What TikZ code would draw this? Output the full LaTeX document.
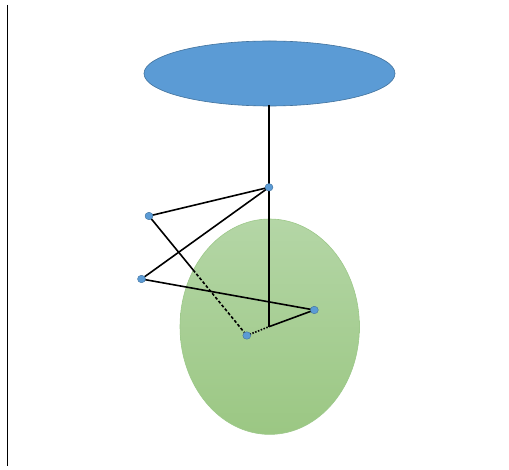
\documentclass[tikz,border=0pt]{standalone}
\usetikzlibrary{backgrounds,calc}
\definecolor{dotblue}{HTML}{5B9BD5}
\definecolor{dotedge}{HTML}{41719C}
\definecolor{greentop}{HTML}{B4D6A6}
\definecolor{greenbot}{HTML}{9BC783}
\definecolor{greenedge}{HTML}{9CC889}
\tikzset{
  pt/.style={ellipse,fill=dotblue,draw=dotedge,line width=0.4pt,inner sep=0pt,minimum width=8pt,minimum height=7.5pt},
  link/.style={draw=black,line width=1.6pt},
  dashlink/.style={draw=black,line width=1.6pt,dash pattern=on 3pt off 2pt},
  dotlink/.style={draw=black,line width=1.6pt,dash pattern=on 1.5pt off 1.5pt},
}
\usetikzlibrary{shapes.geometric}
\begin{document}
\begin{tikzpicture}[x=1pt,y=-1pt]
\useasboundingbox (0,0) rectangle (509,470);
% points
\node[pt] (A) at (269,187.3) {};
\node[pt] (B) at (149,216) {};
\node[pt] (C) at (141.5,279) {};
\node[pt] (D) at (314.3,310) {};
\node[pt] (E) at (246.8,335.5) {};
\coordinate (J) at (269,326.7);
\coordinate (T) at (269,105);
\coordinate (L1) at (7.5,5);
\coordinate (L2) at (7.5,466);
\begin{scope}[on background layer]
  \draw[line width=1.5pt] (L1) -- (L2);
  \fill[draw=dotedge,fill=dotblue,line width=0.6pt] (269.5,73.5) ellipse [x radius=125.5,y radius=32.5];
  \shade[top color=greentop,bottom color=greenbot,draw=greenedge,line width=0.6pt] (269.7,326.7) ellipse [x radius=89.7,y radius=107.7];
  \coordinate (BE) at ($(B)!0.452!(E)$);
  \path[link] (T) -- (A.center);
  \path[link] (A.center) -- (B.center);
  \path[link] (A.center) -- (C.center);
  \path[link] (A.center) -- (J);
  \path[link] (B.center) -- (BE);
  \path[dashlink] (BE) -- (E.center);
  \path[link] (C.center) -- (D.center);
  \path[link] (J) -- (D.center);
  \path[dotlink] (E.center) -- (J);
\end{scope}
\end{tikzpicture}
\end{document}
